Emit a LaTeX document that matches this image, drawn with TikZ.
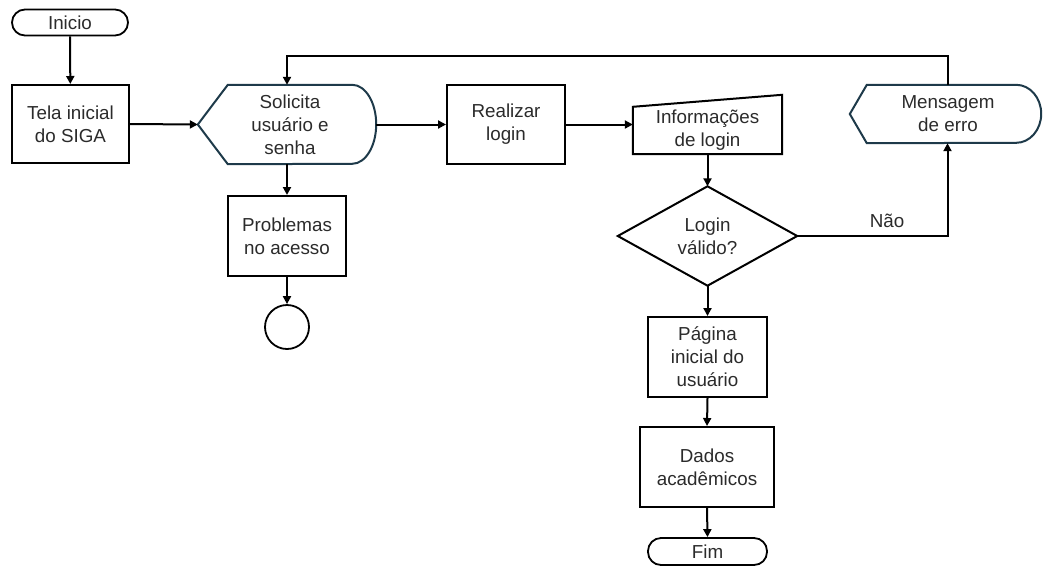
\documentclass[tikz,border=0pt]{standalone}
\usepackage{fontspec}
\setmainfont{Liberation Sans}
\usetikzlibrary{arrows.meta,calc}
\definecolor{txt}{HTML}{2B2B2B}
\definecolor{disp}{HTML}{1E3A4A}
\begin{document}
\begin{tikzpicture}[x=1pt,y=-1pt,
  every node/.style={font=\fontsize{18.8}{23}\selectfont, text=txt, align=center, inner sep=0pt},
  box/.style={draw=black, line width=2pt, fill=white},
  term/.style={draw=black, line width=1.8pt, rounded corners=13pt},
  ghost/.style={draw=none},
  dshape/.style={draw=disp, line width=2pt},
  link/.style={line width=2pt, -{Triangle[length=8pt,width=8pt]}},
  plain/.style={line width=2pt}
]
\useasboundingbox (0,0) rectangle (1043,566);

% terminals
\node[term, minimum width=116pt, minimum height=26pt] (ini) at (70,22.5) {Inicio};
\node[term, minimum width=119pt, minimum height=27pt] (fim) at (707.5,551.5) {Fim};

% process boxes
\node[box, minimum width=117pt, minimum height=78pt] (tela) at (70.5,124) {Tela inicial\\do SIGA};
\node[box, minimum width=118pt, minimum height=79pt] (real) at (506,124.5) {Realizar\\login};
\node[box, minimum width=118pt, minimum height=80pt] (prob) at (287,236) {Problemas\\no acesso};
\node[box, minimum width=119pt, minimum height=80pt] (pag) at (707.5,357) {Página\\inicial do\\usuário};
\node[box, minimum width=134pt, minimum height=80pt] (dados) at (707,467) {Dados\\acadêmicos};

% display: Solicita
\node[ghost, minimum width=178pt, minimum height=79pt] (sol) at (287,124.5) {};
\draw[dshape] (sol.west) -- ([xshift=30pt]sol.north west) -- ([xshift=-24pt]sol.north east)
  arc[start angle=90, end angle=-90, x radius=24pt, y radius=39.5pt]
  -- ([xshift=30pt]sol.south west) -- cycle;
\node at (290,124.5) {Solicita\\usuário e\\senha};

% display: Mensagem de erro
\node[ghost, minimum width=191pt, minimum height=58pt] (msg) at (945.5,114) {};
\draw[dshape] (msg.west) -- ([xshift=17pt]msg.north west) -- ([xshift=-25pt]msg.north east)
  arc[start angle=90, end angle=-90, x radius=25pt, y radius=29pt]
  -- ([xshift=17pt]msg.south west) -- cycle;
\node at (948,114) {Mensagem\\de erro};

% manual input: Informacoes de login
\node[ghost, minimum width=149pt, minimum height=59pt] (info) at (707.5,124.5) {};
\draw[box] (info.south west) -- ([yshift=-12pt]info.north west) -- (info.north east)
  -- (info.south east) -- cycle;
\node at (707.5,130) {Informações\\de login};

% decision
\node[ghost, minimum width=179pt, minimum height=99pt] (dec) at (707.5,236) {};
\draw[box] (dec.north) -- (dec.east) -- (dec.south) -- (dec.west) -- cycle;
\node at (707.5,236) {Login\\válido?};

% connector end circle
\node[draw=black, line width=1.8pt, circle, minimum size=44pt] (endc) at (287,327) {};

% label
\node (nao) at (887,221) {Não};

% connectors
\draw[link] (ini) -- (tela);
\draw[link] (tela.east) -- (sol.west);
\draw[link] (sol.east) -- (real.west);
\draw[link] (real.east) -- (info.west);
\draw[link] (sol.south) -- (prob.north);
\draw[link] (prob.south) -- (endc.north);
\draw[link] (info.south) -- (dec.north);
\draw[link] (dec.south) -- (pag.north);
\draw[link] (pag.south) -- (dados.north);
\draw[link] (dados.south) -- (fim.north);
\draw[link] (dec.east) -| ([xshift=2pt]msg.south);
\coordinate (topy) at (0,56);
\draw[link] ([xshift=2pt]msg.north) -- ([xshift=2pt]msg.north |- topy) -| (sol.north);
\end{tikzpicture}
\end{document}
